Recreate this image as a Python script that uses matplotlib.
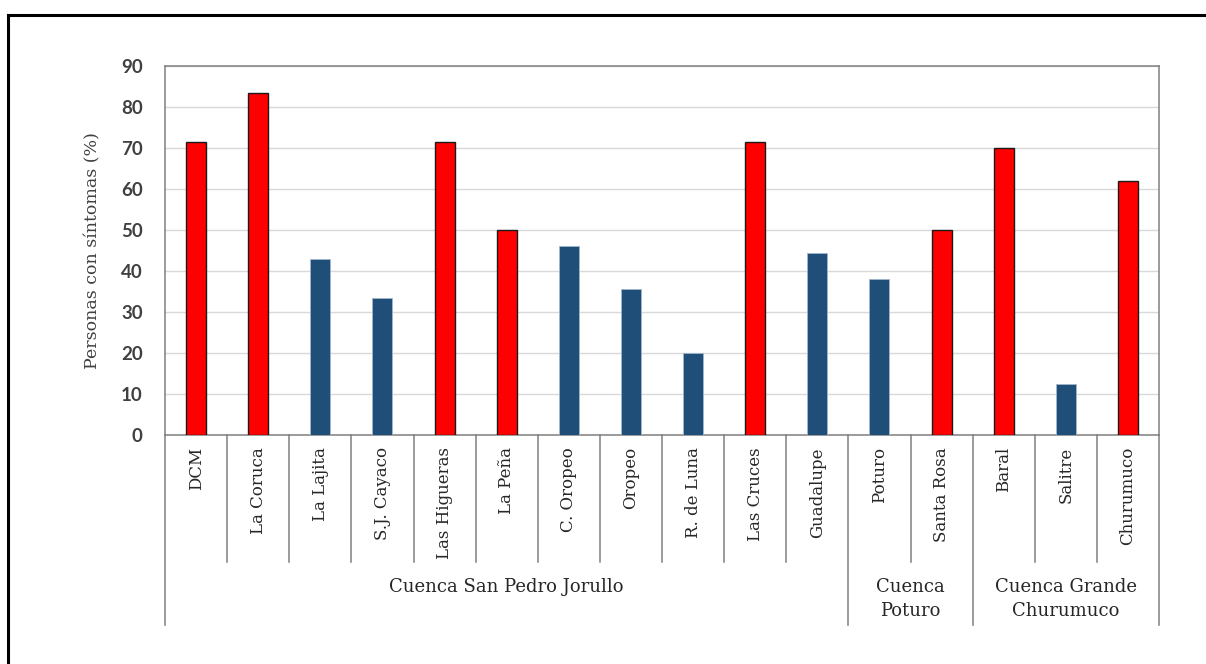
import matplotlib
matplotlib.use("Agg")
import matplotlib.pyplot as plt
from matplotlib.lines import Line2D
import matplotlib.transforms as mtransforms

localidades = ["DCM", "La Coruca", "La Lajita", "S.J. Cayaco", "Las Higueras",
               "La Peña", "C. Oropeo", "Oropeo", "R. de Luna", "Las Cruces",
               "Guadalupe", "Poturo", "Santa Rosa", "Baral", "Salitre", "Churumuco"]
porcentaje = [71.4, 83.3, 42.9, 33.3, 71.4, 50.0, 46.2, 35.7, 20.0, 71.4,
              44.4, 38.1, 50.0, 70.0, 12.5, 62.0]
cuencas = ["Cuenca San Pedro Jorullo", "Cuenca\nPoturo", "Cuenca Grande\nChurumuco"]
localidades_por_cuenca = [11, 2, 3]
umbral = 50

W, H = 1206, 664
fig = plt.figure(figsize=(W / 100, H / 100), dpi=100)
fig.patch.set_facecolor("white")

# outer frame (left and top edges)
fig.add_artist(Line2D([8 / W, 8 / W], [0, 1 - 15 / H], color="black", lw=2.2))
fig.add_artist(Line2D([8 / W, 1], [1 - 15 / H, 1 - 15 / H], color="black", lw=2.2))

left, right, top, bottom = 165, 1159, 66, 435
ax = fig.add_axes([left / W, 1 - bottom / H, (right - left) / W, (bottom - top) / H])

rojo, azul = "#ff0000", "#1f4e79"
x = list(range(len(localidades)))
for xi, v in zip(x, porcentaje):
    if v >= umbral:
        ax.bar(xi, v, width=0.32, color=rojo, edgecolor="#1a1a1a", linewidth=1.0, zorder=3)
    else:
        ax.bar(xi, v, width=0.32, color=azul, edgecolor="#9fb6cc", linewidth=0.6, zorder=3)

ax.set_xlim(-0.5, len(localidades) - 0.5)
ax.set_ylim(0, 90)
ax.set_yticks(range(0, 91, 10))
ax.yaxis.grid(True, color="#d9d9d9", lw=1.0, zorder=0)
ax.set_axisbelow(True)
ax.set_xticks([])
ax.tick_params(axis="y", length=0, pad=16, labelsize=13.5, labelcolor="#404040")
for lab in ax.get_yticklabels():
    lab.set_fontweight("bold")
    lab.set_family(["Lato", "DejaVu Sans"])
for s in ax.spines.values():
    s.set_color("#808080")
    s.set_linewidth(1.1)

ax.set_ylabel("Personas con síntomas (%)", family="DejaVu Serif", fontsize=12.5,
              color="#404040", labelpad=14)

# multi-level category axis below the plot
tr = mtransforms.blended_transform_factory(ax.transData, ax.transAxes)
h = bottom - top
y_cat = -(562 - bottom) / h
y_grp = -(625 - bottom) / h

for xi, name in zip(x, localidades):
    ax.text(xi, -(447 - bottom) / h, name, transform=tr, rotation=90,
            ha="center", va="top", family="DejaVu Serif", fontsize=12, color="#262626")

bounds = [-0.5]
for n in localidades_por_cuenca:
    bounds.append(bounds[-1] + n)
for b in range(1, len(localidades)):
    edge = b - 0.5
    y_end = y_grp if edge in bounds else y_cat
    ax.plot([edge, edge], [0, y_end], transform=tr, color="#808080", lw=1.1, clip_on=False)
for edge in (bounds[0], bounds[-1]):
    ax.plot([edge, edge], [0, y_grp], transform=tr, color="#808080", lw=1.1, clip_on=False)

for i, name in enumerate(cuencas):
    xc = (bounds[i] + bounds[i + 1]) / 2
    ax.text(xc, -(578 - bottom) / h, name, transform=tr, ha="center", va="top",
            family="DejaVu Serif", fontsize=13, color="#262626", linespacing=1.45)

fig.savefig("out.png", dpi=100)
